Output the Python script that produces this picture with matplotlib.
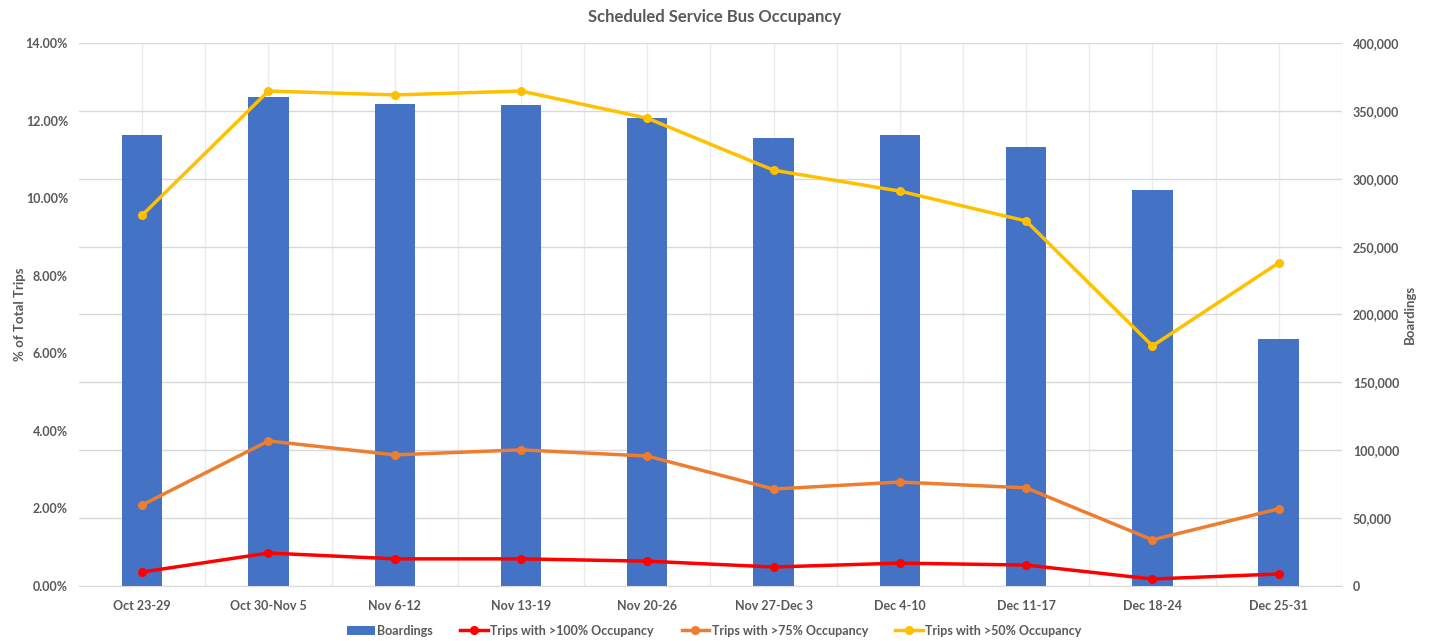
import matplotlib
matplotlib.use('Agg')
import matplotlib.pyplot as plt
import numpy as np
from matplotlib.ticker import FuncFormatter, MultipleLocator

weeks = ['Oct 23-29', 'Oct 30-Nov 5', 'Nov 6-12', 'Nov 13-19', 'Nov 20-26',
         'Nov 27-Dec 3', 'Dec 4-10', 'Dec 11-17', 'Dec 18-24', 'Dec 25-31']
boardings = [332000, 360000, 355000, 354000, 345000, 330000, 332000, 323000, 292000, 182000]
over_100 = [0.36, 0.85, 0.70, 0.70, 0.64, 0.49, 0.59, 0.54, 0.18, 0.31]
over_75 = [2.09, 3.74, 3.38, 3.51, 3.35, 2.50, 2.68, 2.53, 1.19, 1.99]
over_50 = [9.56, 12.76, 12.66, 12.76, 12.06, 10.72, 10.18, 9.41, 6.19, 8.33]

plt.rcParams['font.family'] = ['Lato', 'DejaVu Sans']
grey = '#595959'

fig = plt.figure(figsize=(14.29, 6.41), dpi=100)
ax = fig.add_axes([0.0553, 0.0858, 0.8837, 0.8472])
ax2 = ax.twinx()

x = np.arange(len(weeks))
bars = ax2.bar(x, boardings, width=0.32, color='#4472C4', label='Boardings', zorder=2)

# vertical gridlines at category centres and boundaries
for v in np.arange(-0.5, len(weeks), 0.5)[1:]:
    ax2.axvline(v, color='#EBEBEB', lw=1, zorder=0)

l1, = ax.plot(x, over_100, color='#FF0000', lw=2.5, marker='o', ms=5.5, label='Trips with >100% Occupancy', zorder=5)
l2, = ax.plot(x, over_75, color='#ED7D31', lw=2.5, marker='o', ms=5.5, label='Trips with >75% Occupancy', zorder=5)
l3, = ax.plot(x, over_50, color='#FFC000', lw=2.5, marker='o', ms=5.5, label='Trips with >50% Occupancy', zorder=5)

# lines on top of bars
ax.set_zorder(ax2.get_zorder() + 1)
ax.patch.set_visible(False)

ax.set_xlim(-0.5, len(weeks) - 0.5)
ax.set_ylim(0, 14)
ax2.set_ylim(0, 400000)
ax.yaxis.set_major_locator(MultipleLocator(2))
ax2.yaxis.set_major_locator(MultipleLocator(50000))
ax.yaxis.set_major_formatter(FuncFormatter(lambda v, p: '%.2f%%' % v))
ax2.yaxis.set_major_formatter(FuncFormatter(lambda v, p: '{:,.0f}'.format(v)))

ax.set_xticks(x)
ax.set_xticklabels(weeks)

ax2.grid(True, which='major', axis='y', color='#D9D9D9', lw=1, zorder=0)
ax2.set_axisbelow(True)

for a in (ax, ax2):
    for s in a.spines.values():
        s.set_visible(False)
    a.tick_params(which='both', length=0, labelsize=9, labelcolor=grey, pad=8)
    for lab in a.get_xticklabels() + a.get_yticklabels():
        lab.set_fontweight('bold')
ax.spines['bottom'].set_visible(True)
ax.spines['bottom'].set_color('#D9D9D9')
ax.tick_params(axis='x', pad=10)

ax.set_ylabel('% of Total Trips', fontsize=9.5, fontweight='bold', color=grey, labelpad=0)
ax2.set_ylabel('Boardings', fontsize=9.5, fontweight='bold', color=grey, labelpad=3)

fig.text(0.5, 0.973, 'Scheduled Service Bus Occupancy', ha='center', va='center',
         fontsize=12, fontweight='bold', color=grey)

leg = fig.legend(handles=[bars, l1, l2, l3], loc='center', bbox_to_anchor=(0.5, 0.016),
                 ncol=4, frameon=False, fontsize=9, handlelength=2.2, handletextpad=0.2,
                 columnspacing=2.2)
for t in leg.get_texts():
    t.set_color(grey)
    t.set_fontweight('bold')

fig.savefig('out.png', dpi=100)
